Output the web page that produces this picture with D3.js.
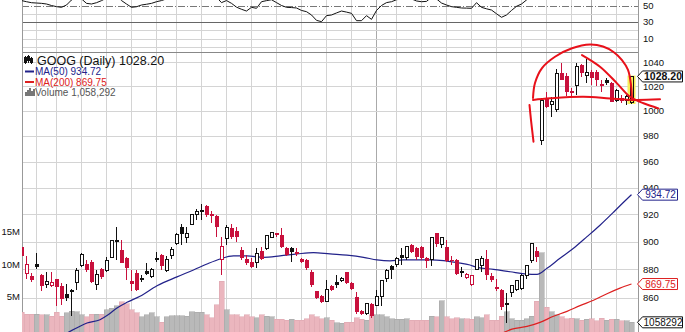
<!DOCTYPE html>
<html><head><meta charset="utf-8">
<script src="https://cdn.jsdelivr.net/npm/d3@7"></script>
<style>
html,body{margin:0;padding:0;background:#fff;}
svg{display:block;font-family:"Liberation Sans",Arial,sans-serif;}
</style></head><body>
<svg id="chart" width="685" height="332"></svg>
<script>
// ---- GOOG daily data (one entry per trading day) ----
const opens = [896.4,877.2,875.3,883.9,876.0,869.2,868.5,873.1,868.5,862.8,864.8,870.8,882.5,883.7,885.6,869.2,880.1,879.1,888.7,900.0,894.0,888.0,871.9,877.2,873.4,879.1,874.8,886.8,890.4,879.6,889.9,898.8,910.8,903.1,912.5,919.7,922.6,926.4,920.4,918.5,886.8,902.4,910.3,907.9,894.0,887.5,885.6,884.9,893.5,895.2,903.1,906.0,904.8,895.2,895.2,892.8,887.3,886.8,878.4,864.6,861.6,857.7,868.5,871.2,872.4,877.9,870.3,860.5,850.8,849.0,855.9,854.7,860.7,873.6,882.5,883.7,890.4,888.7,897.6,895.2,896.4,888.0,886.8,906.0,898.1,896.4,886.9,886.8,878.2,874.3,869.2,880.1,882.5,887.5,875.3,868.0,865.7,855.9,864.1,866.2,866.9,876.0,886.3,893.5,976.7,1010.7,1005.3,1000.8,1031.4,1028.7,1016.2,1020.4,1037.8,1029.2,1032.3,1032.3,1022.0,1025.4,1022.6,1008.3,1010.2,1008.3,1006.7];
const highs = [902.4,889.7,877.2,892.1,876.5,878.4,878.4,873.6,870.3,869.9,866.2,880.8,891.6,886.8,886.8,879.6,880.8,889.2,901.2,910.8,901.2,889.2,879.6,879.6,876.0,884.4,881.3,892.8,891.1,889.7,896.4,906.0,913.2,910.8,920.4,924.0,927.6,927.1,922.8,919.2,903.1,912.5,913.2,910.8,896.4,890.4,888.0,895.2,896.4,904.8,907.2,906.5,909.6,896.4,896.4,895.2,888.0,887.3,879.6,865.0,862.3,872.4,869.2,876.0,874.8,878.4,871.5,863.9,852.0,856.6,856.6,865.7,872.4,880.1,883.2,889.2,895.2,896.9,898.3,896.4,896.9,889.2,903.6,906.5,903.6,901.2,889.7,887.3,881.5,877.2,876.0,887.3,889.7,894.0,877.2,873.6,866.2,863.4,869.2,872.4,876.7,883.2,898.8,896.4,1010.2,1015.7,1011.5,1034.2,1039.8,1030.9,1018.4,1039.2,1038.4,1042.5,1033.7,1033.7,1025.4,1026.7,1024.0,1017.6,1012.9,1012.6,1028.9];
const lows = [889.2,873.6,871.5,880.1,864.6,866.9,868.0,854.7,855.4,857.7,847.4,865.7,882.0,878.4,870.3,865.7,873.6,878.4,888.0,886.8,884.4,872.4,864.6,864.6,871.5,876.0,874.3,885.6,879.6,878.4,887.3,897.6,897.6,898.8,912.0,915.6,915.6,918.0,913.7,903.1,876.0,897.6,901.6,900.0,886.8,883.2,880.8,880.8,886.8,894.0,902.4,903.6,895.2,889.7,885.6,889.7,884.4,879.6,868.0,859.3,856.6,857.0,864.6,866.9,871.5,869.9,865.7,849.2,848.6,848.3,846.3,854.3,854.3,871.5,873.6,882.0,883.2,886.8,892.1,886.8,886.8,880.8,882.5,896.4,895.2,885.6,883.2,876.0,874.8,873.6,868.5,879.6,878.4,872.4,871.5,864.6,852.0,842.8,860.7,864.6,865.7,873.6,884.4,885.6,972.6,1002.1,995.4,999.4,1025.0,1012.3,1011.5,1012.9,1028.1,1022.6,1021.2,1020.4,1015.7,1021.2,1007.2,1007.5,1006.1,1004.8,1005.6];
const closes = [889.7,883.2,872.9,881.5,868.5,871.5,870.8,867.6,859.6,860.0,865.5,879.6,890.4,879.6,871.5,876.7,874.8,886.3,900.5,901.0,884.6,880.8,869.9,865.7,873.8,876.7,880.1,888.0,882.5,886.8,894.0,905.3,905.6,906.0,919.7,922.3,922.9,919.2,918.5,910.8,896.4,910.1,903.6,903.1,888.0,884.9,881.5,891.1,887.3,904.1,906.7,904.6,896.4,890.4,892.3,891.1,885.6,880.8,869.2,860.0,857.0,865.7,865.3,869.4,873.6,870.3,866.2,850.2,849.0,855.9,847.4,860.7,871.9,879.6,879.8,888.0,888.5,896.4,892.8,888.7,888.0,886.3,903.1,898.3,903.1,886.3,886.0,876.7,878.6,876.5,875.5,886.8,887.5,876.0,872.4,866.2,853.8,856.1,868.5,871.9,876.0,882.5,898.3,888.7,1008.8,1002.9,1007.5,1030.9,1025.4,1015.1,1014.9,1036.4,1030.9,1031.1,1026.7,1025.4,1020.4,1022.6,1007.5,1016.5,1008.3,1012.0,1028.2];
// volume in millions of shares
const volumes = [2.6,2.3,2.3,2.3,2.2,2.2,2.0,2.6,2.0,2.5,2.8,2.7,2.2,1.9,2.3,2.3,2.3,3.0,3.2,3.6,4.2,3.9,3.0,2.5,1.9,2.2,2.5,1.9,1.1,1.9,2.1,2.1,2.1,2.0,2.7,2.6,2.6,2.2,1.8,3.8,7.4,3.0,2.2,2.2,1.9,2.2,1.9,1.8,2.2,2.0,1.9,1.5,1.5,1.4,1.5,1.4,1.4,1.6,2.2,1.9,1.6,1.8,1.4,1.0,0.9,1.1,1.1,1.8,1.5,1.4,2.2,2.2,2.2,1.9,1.6,1.5,1.5,1.6,1.4,1.4,1.4,1.4,2.0,1.9,4.4,1.9,1.6,1.8,1.6,1.6,1.5,1.9,1.8,2.2,1.4,1.4,2.0,2.7,1.6,1.4,1.4,1.6,2.0,4.3,11.8,3.4,2.7,2.2,1.9,1.6,1.7,1.6,1.4,1.5,1.6,1.3,1.7,1.4,1.5,1.5,1.3,1.3,1.058292];
// RSI(14)
const rsi = [56,54.6,53.4,53,52.6,51.8,50,48.6,47.8,50.6,56.7,61,58,52.6,51.8,53.4,55.9,59,64,62,56,51.8,47.8,48.5,50.6,51.5,52.6,54.6,56,58,61,64,64,65,68,70,70,66,64,60,53.5,56,52.6,48,45.4,43.3,47.8,46.6,54.6,55.9,57,53.5,50,47.8,47.5,47,44,42.5,38.5,32,30.4,37.7,38.5,41,43.3,42,40.5,31.6,31.6,37.7,33.2,44,50,53.5,54.6,57,58,60,58,55.5,54.6,55,60,58,53,50.6,48.6,47.8,47,46.8,46.6,53.4,47.8,46,44.5,40,35.7,38.5,44,49,51.8,56.7,62,58,72,70,70,76,74,70,69,73,71,71,68,67,65,65,60,62,61,62,68];
// moving averages as [day index, value]
const ma50 = [[8,834],[10.7,838.9],[13.1,842.8],[15.7,845.1],[17.4,848.6],[19.1,853.1],[21.1,857.0],[23.7,861.2],[27.1,868.5],[31.1,874.8],[34.4,879.6],[37.1,883.9],[39.7,887.5],[42.4,889.7],[45.1,889.7],[48.4,888.7],[51.7,889.7],[55.1,891.1],[58.4,892.1],[61.7,891.1],[65.1,890.2],[68.4,888.7],[71.1,886.8],[73.7,886.1],[76.4,886.8],[79.1,886.8],[81.7,886.8],[84.4,886.3],[87.1,884.9],[89.7,883.2],[91.1,881.5],[94.4,880.1],[97.7,878.4],[101.1,876.7],[103.1,876.5],[105.1,880.8],[107.7,888.0],[110.4,895.2],[113.1,903.6],[115.7,912.0],[118.4,921.6],[119.7,926.4],[122,934.72]];
const ma200 = [[95,834],[98.1,838.7],[101.1,840.5],[103.7,843.3],[106.4,847.4],[109.1,850.8],[111.7,854.7],[114.4,858.4],[117.1,863.0],[119.7,866.9],[122,869.75]];
const priceTicks = [860,880,900,920,940,960,980,1000,1020,1040];
const volumeTicks = [5,10,15];
const rsiTicks = [10,30,50];
const rsiGridLevels = [40,20,10,0];
const weekStarts = [3,7,12,17,22,27,31,36,41,46,51,56,61,66,71,75,80,85,90,95,100,105,110,114,119];
const monthStarts = [71,114];
// hand-drawn pattern notes on the chart, as [day index, price]
const noteArc = [[102.3,1010.5],[102.7,1022.8],[104.1,1035.2],[106.7,1044.7],[110.1,1051.8],[113.7,1055.0],[116.3,1053.3],[118.4,1048.7],[120.1,1041.9],[121.3,1033.6],[121.9,1021.1],[122.1,1008.9]];
const noteNeck = [[102.3,1008.9],[105.7,1010.2],[112.4,1011.5],[117.7,1010.1],[122.4,1008.9],[127.7,1009.4]];
const noteSlope = [[112.1,1046.1],[115.7,1036.3],[119.1,1022.5],[121.7,1011.5],[124.4,1006.2],[127.4,1002.1]];
const noteTick = [[101.6,1004.8],[101.9,992.7],[102.4,975.5]];

const lastClose = closes[closes.length-1];
const lastVol = volumes[volumes.length-1];
const lastMa50 = ma50[ma50.length-1][1];
const lastMa200 = ma200[ma200.length-1][1];

// ---- layout ----
const plotL = 22, plotR = 638.5;
const mainTop = 52.5, mainBot = 332;
const RED = "#c8103c", BLACK = "#111", NAVY = "#22228a", MARED = "#dd2020";

const svg = d3.select("#chart");
const N = closes.length;
const x = d3.scaleLinear().domain([0, N-1]).range([21.5, 631.5]);
const y = d3.scaleLog().domain([860,1040]).range([298, 62.3]);
const yVol = d3.scaleLinear().domain([0,15]).range([329.2, 231.7]);
const yRsi = d3.scaleLinear().domain([0,100]).range([46.75, -35.75]);

const defs = svg.append("defs");
defs.append("clipPath").attr("id","mainClip").append("rect")
  .attr("x",plotL).attr("y",mainTop).attr("width",plotR-plotL).attr("height",mainBot-mainTop);
defs.append("clipPath").attr("id","rsiClip").append("rect")
  .attr("x",plotL).attr("y",-40).attr("width",plotR-plotL).attr("height",mainTop+40);

// ---- grid ----
const grid = svg.append("g").attr("shape-rendering","crispEdges");
// vertical weekly lines through both panels
grid.selectAll("line.wk").data(weekStarts).join("line")
  .attr("x1",d=>x(d)).attr("x2",d=>x(d)).attr("y1",0).attr("y2",332)
  .attr("stroke",d=>monthStarts.includes(d)?"#aaa":"#d4d4d4").attr("stroke-width",1);
// price gridlines
grid.selectAll("line.pg").data(priceTicks).join("line")
  .attr("x1",plotL).attr("x2",plotR).attr("y1",d=>Math.round(y(d))+0.5).attr("y2",d=>Math.round(y(d))+0.5)
  .attr("stroke","#d4d4d4");
// RSI gridlines
grid.selectAll("line.rg").data(rsiGridLevels).join("line")
  .attr("x1",plotL).attr("x2",plotR).attr("y1",d=>Math.round(yRsi(d))+0.5).attr("y2",d=>Math.round(yRsi(d))+0.5)
  .attr("stroke","#d4d4d4");
// RSI reference levels
grid.append("line").attr("x1",plotL).attr("x2",plotR)
  .attr("y1",Math.round(yRsi(50))+0.5).attr("y2",Math.round(yRsi(50))+0.5)
  .attr("stroke","#777").attr("stroke-dasharray","7,2,1,2");
grid.append("line").attr("x1",plotL).attr("x2",plotR)
  .attr("y1",Math.round(yRsi(30))+0.5).attr("y2",Math.round(yRsi(30))+0.5)
  .attr("stroke","#666");
// panel frames
grid.append("line").attr("x1",plotL).attr("x2",plotR).attr("y1",mainTop).attr("y2",mainTop).attr("stroke","#888");
grid.append("line").attr("x1",plotL+0.5).attr("x2",plotL+0.5).attr("y1",0).attr("y2",332).attr("stroke","#999");
grid.append("line").attr("x1",plotR).attr("x2",plotR).attr("y1",0).attr("y2",332).attr("stroke","#999");

// ---- RSI line ----
svg.append("path").datum(rsi).attr("clip-path","url(#rsiClip)")
  .attr("fill","none").attr("stroke","#111").attr("stroke-width",1)
  .attr("d", d3.line().x((d,i)=>x(i)).y(d=>yRsi(d)));

// ---- main panel ----
const main = svg.append("g").attr("clip-path","url(#mainClip)");

// volume bars
const upDay = i => i===0 ? closes[0] >= opens[0] : closes[i] >= closes[i-1];
main.append("g").attr("shape-rendering","crispEdges").selectAll("rect").data(volumes).join("rect")
  .attr("x",(d,i)=>x(i)-2.5).attr("width",5)
  .attr("y",d=>yVol(d)).attr("height",d=>yVol(0)-yVol(d)+4)
  .attr("fill",(d,i)=>upDay(i)?"#b9b9b9":"#ebb6be")
  .attr("stroke",(d,i)=>upDay(i)?"#a4a4a4":"#dca3ad").attr("stroke-width",0.5);

// moving averages
const maLine = d3.line().x(d=>x(d[0])).y(d=>y(d[1])).curve(d3.curveMonotoneX);
main.append("path").datum(ma50).attr("fill","none").attr("stroke",NAVY).attr("stroke-width",1.2).attr("d",maLine);
main.append("path").datum(ma200).attr("fill","none").attr("stroke",MARED).attr("stroke-width",1.2).attr("d",maLine);

// highlight behind the latest candle
const li = N-1;
main.append("rect").attr("x",x(li)-4).attr("width",8)
  .attr("y",y(highs[li])).attr("height",y(lows[li])-y(highs[li]))
  .attr("fill","#f6f05a");

// candles
const cg = main.append("g").attr("shape-rendering","crispEdges");
const idx = d3.range(N);
const col = i => upDay(i) ? BLACK : RED;
cg.selectAll("line").data(idx).join("line")
  .attr("x1",i=>x(i)).attr("x2",i=>x(i))
  .attr("y1",i=>y(highs[i])).attr("y2",i=>y(lows[i]))
  .attr("stroke",col);
cg.selectAll("rect").data(idx).join("rect")
  .attr("x",i=>closes[i]>=opens[i] ? x(i)-1.5 : x(i)-2)
  .attr("width",i=>closes[i]>=opens[i] ? 3 : 4)
  .attr("y",i=>y(Math.max(opens[i],closes[i])))
  .attr("height",i=>Math.max(1, y(Math.min(opens[i],closes[i]))-y(Math.max(opens[i],closes[i]))))
  .attr("fill",i=>closes[i]>=opens[i] ? (i===li?"#f6f05a":"#fff") : col(i))
  .attr("stroke",i=>closes[i]>=opens[i] ? col(i) : "none");

// ---- axis labels ----
const lab = svg.append("g").attr("font-size",9.5).attr("fill","#111");
lab.selectAll("text.p").data(priceTicks).join("text")
  .attr("x",643).attr("y",d=>y(d)).attr("dy","0.35em").text(d=>d);
lab.selectAll("text.r").data(rsiTicks).join("text")
  .attr("x",643).attr("y",d=>yRsi(d)).attr("dy","0.35em").text(d=>d);
lab.selectAll("text.v").data(volumeTicks).join("text")
  .attr("x",20).attr("y",d=>yVol(d)).attr("dy","0.35em").attr("text-anchor","end").text(d=>d+"M");

// ---- value tags on the right ----
function tag(val, yy, color, bold, w) {
  const x0 = 637.5, h = 11;
  const g = svg.append("g");
  g.append("path").attr("d",`M${x0},${yy} L${x0+5},${yy-h/2} L${x0+w},${yy-h/2} L${x0+w},${yy+h/2} L${x0+5},${yy+h/2} Z`)
    .attr("fill","#fff").attr("stroke",color).attr("stroke-width",1);
  g.append("text").attr("x",x0+5.5+(w-5)/2).attr("y",yy).attr("dy","0.36em").attr("text-anchor","middle")
    .attr("font-size",bold?10.5:10).attr("font-weight",bold?"bold":"normal").attr("fill",color).text(val);
}
tag(lastMa50.toFixed(2), y(lastMa50), NAVY, false, 40);
tag(lastMa200.toFixed(2), y(lastMa200), MARED, false, 40);
tag(Math.round(lastVol*1e6), yVol(lastVol), "#111", false, 45);
tag(lastClose.toFixed(2), y(lastClose), "#111", true, 45);

// ---- legend ----
const lg = svg.append("g").attr("fill","#111");
// candle glyph
const glyph = lg.append("g").attr("stroke","#111").attr("shape-rendering","crispEdges");
[[25.5,56,64,57.5,62],[28.5,55,63,56,60],[31.5,57,64,58,62]].forEach(([gx,a,b,c,d2])=>{
  glyph.append("line").attr("x1",gx).attr("x2",gx).attr("y1",a).attr("y2",b);
  glyph.append("rect").attr("x",gx-1).attr("y",c).attr("width",2).attr("height",d2-c).attr("fill","#111");
});
lg.append("text").attr("x",37).attr("y",64.5).attr("font-size",12.5).text("GOOG (Daily) "+lastClose.toFixed(2));
lg.append("line").attr("x1",25).attr("x2",34).attr("y1",71.5).attr("y2",71.5).attr("stroke",NAVY).attr("stroke-width",2);
lg.append("text").attr("x",35).attr("y",75).attr("font-size",10).attr("fill",NAVY).text("MA(50) "+lastMa50.toFixed(2));
lg.append("line").attr("x1",25).attr("x2",34).attr("y1",82).attr("y2",82).attr("stroke",MARED).attr("stroke-width",2);
lg.append("text").attr("x",35).attr("y",85.5).attr("font-size",10).attr("fill",MARED).text("MA(200) "+lastMa200.toFixed(2));
const vg = lg.append("g").attr("fill","#777").attr("shape-rendering","crispEdges");
[[25,4],[27,6],[29,8],[31,5],[33,7]].forEach(([vx,hh])=>vg.append("rect").attr("x",vx).attr("y",96-hh).attr("width",1.5).attr("height",hh));
lg.append("text").attr("x",35).attr("y",96).attr("font-size",10).attr("fill","#555")
  .text("Volume "+d3.format(",")(Math.round(lastVol*1e6)));

// ---- hand-drawn pattern notes ----
const noteLine = d3.line().x(d=>x(d[0])).y(d=>y(d[1])).curve(d3.curveCatmullRom);
[noteArc, noteNeck, noteSlope, noteTick].forEach(pts=>{
  svg.append("path").datum(pts).attr("fill","none").attr("stroke","#e8101a")
    .attr("stroke-width",2).attr("stroke-linecap","round").attr("d",noteLine);
});
</script>
</body></html>
